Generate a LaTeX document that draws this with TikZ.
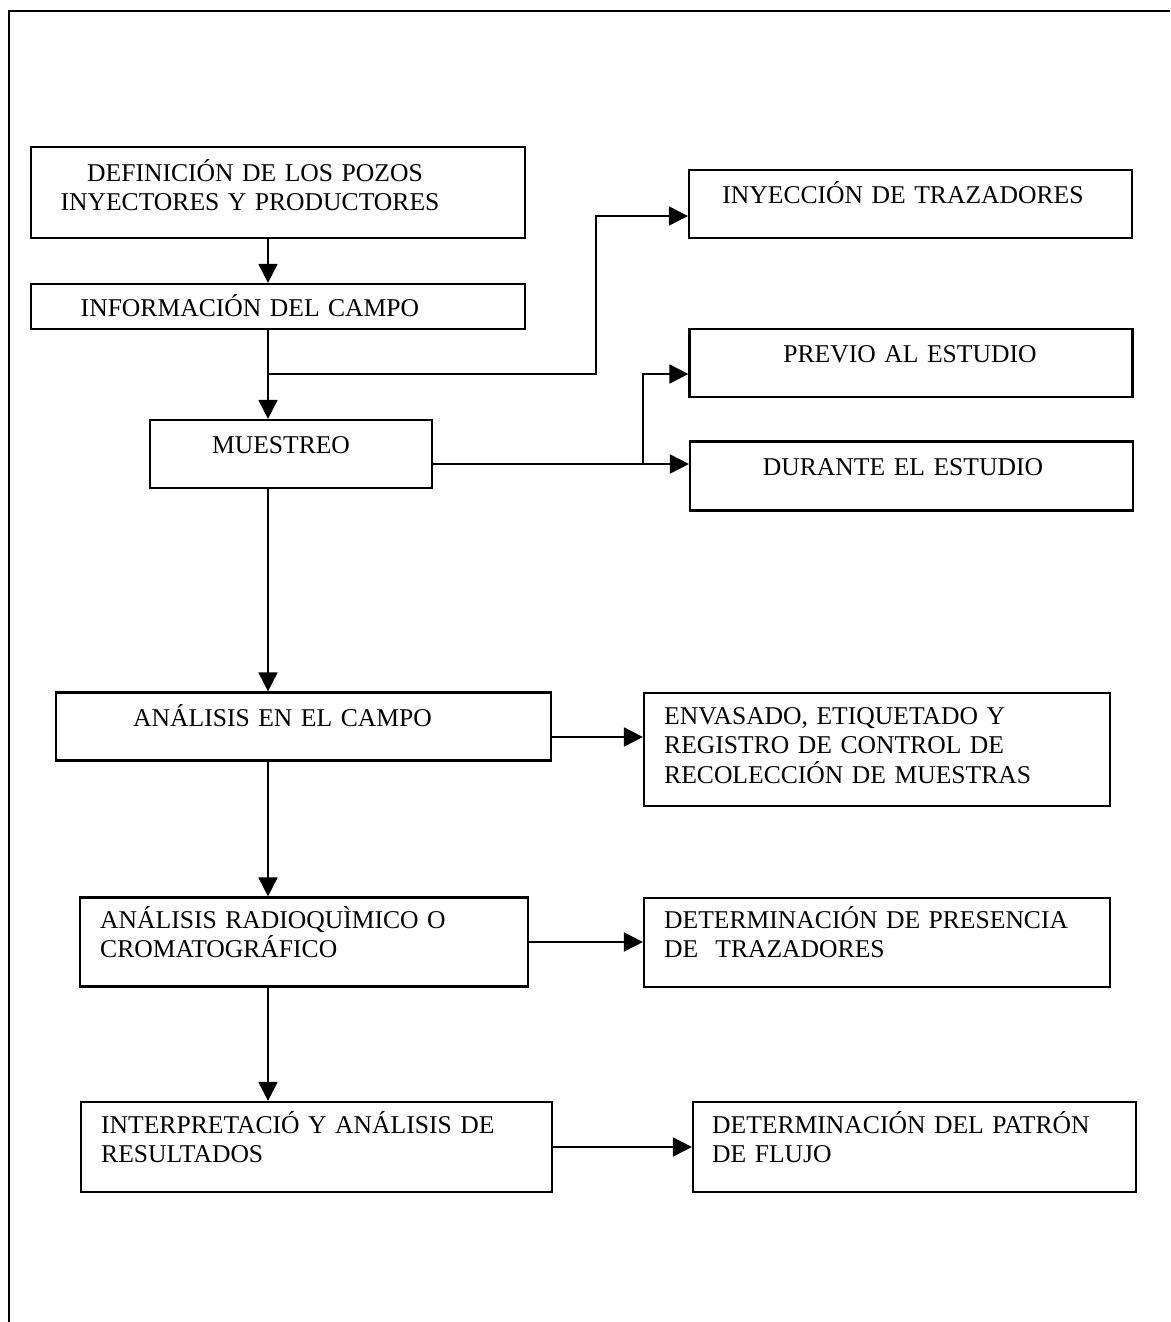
\documentclass[tikz,border=0pt]{standalone}
\usepackage{fontspec}
\setmainfont{Liberation Serif}
\usetikzlibrary{arrows.meta}
\usetikzlibrary{calc}

\begin{document}
\begin{tikzpicture}[x=1pt, y=-1pt,
    blk/.style={rectangle, draw, line width=2.2pt, inner sep=0pt},
    txt/.style={inner sep=0pt, text width=430pt, font=\fontsize{25.6}{29.5}\selectfont},
    arr/.style={line width=1.8pt, -{Triangle[length=19pt, width=19pt]}}]
      \useasboundingbox (0,0) rectangle (1170,1322);
      \draw[line width=2.2pt] (9,1322) -- (9,11) -- (1170,11);

      % cajas
      \node[blk, minimum width=494pt, minimum height=91pt] (def) at (278,192.5) {};
      \node[blk, minimum width=494pt, minimum height=45pt] (info) at (278,306.5) {};
      \node[blk, minimum width=282pt, minimum height=68pt] (mue) at (291,454) {};
      \node[blk, minimum width=443pt, minimum height=68pt] (iny) at (910.5,204) {};
      \node[blk, minimum width=443pt, minimum height=68pt] (pre) at (911,363) {};
      \node[blk, minimum width=443pt, minimum height=69pt] (dur) at (911.5,476) {};
      \node[blk, minimum width=495pt, minimum height=68pt] (ana) at (303.5,726.5) {};
      \node[blk, minimum width=466pt, minimum height=113pt] (env) at (877,749.5) {};
      \node[blk, minimum width=448pt, minimum height=89pt] (rad) at (304,942) {};
      \node[blk, minimum width=466pt, minimum height=89pt] (det) at (877,942.5) {};
      \node[blk, minimum width=471pt, minimum height=90pt] (int) at (316.5,1147) {};
      \node[blk, minimum width=443pt, minimum height=90pt] (pat) at (914.5,1147) {};

      % textos
      \node[txt, align=center, anchor=base] (def-t) at (250,181) {\hspace*{10pt}DEFINICIÓN DE LOS POZOS\\INYECTORES Y PRODUCTORES};
      \node[txt, align=center, anchor=base] (info-t) at (250,316) {INFORMACIÓN DEL CAMPO};
      \node[txt, align=center, anchor=base] (mue-t) at (281,453) {MUESTREO};
      \node[txt, align=center, anchor=base] (iny-t) at (903,203) {INYECCIÓN DE TRAZADORES};
      \node[txt, align=center, anchor=base] (pre-t) at (910,362) {PREVIO AL ESTUDIO};
      \node[txt, align=center, anchor=base] (dur-t) at (903,475) {DURANTE EL ESTUDIO};
      \node[txt, align=left, anchor=base west] (ana-t) at (133,726) {ANÁLISIS EN EL CAMPO};
      \node[txt, align=left, anchor=base west] (env-t) at (664,724) {ENVASADO, ETIQUETADO Y\\REGISTRO DE CONTROL DE\\RECOLECCIÓN DE MUESTRAS};
      \node[txt, align=left, anchor=base west] (rad-t) at (100,928) {ANÁLISIS RADIOQUÌMICO O\\CROMATOGRÁFICO};
      \node[txt, align=left, anchor=base west] (det-t) at (664,928) {DETERMINACIÓN DE PRESENCIA\\DE~~TRAZADORES};
      \node[txt, align=left, anchor=base west] (int-t) at (101,1133) {INTERPRETACIÓ Y ANÁLISIS DE\\RESULTADOS};
      \node[txt, align=left, anchor=base west] (pat-t) at (712,1133) {DETERMINACIÓN DEL PATRÓN\\DE FLUJO};

      % conectores
      \coordinate (stem) at (268,0);
      \coordinate (j1) at (268,374);
      \coordinate (k1) at (596,216);
      \coordinate (j2) at (643,464);
      \coordinate (k2) at (643,374);

      \draw[arr] (def.south -| stem) -- (info.north -| stem);
      \draw[arr] (info.south -| stem) -- (mue.north -| stem);
      \draw[arr] (j1) -| (k1) -- (k1 -| iny.west);
      \draw[arr] (mue.east |- j2) -- (j2 -| dur.west);
      \draw[arr] (j2) -- (k2) -- (k2 -| pre.west);
      \draw[arr] (mue.south -| stem) -- (ana.north -| stem);
      \draw[arr] ([yshift=-10.5pt]ana.east) -- ([yshift=-10.5pt]ana.east -| env.west);
      \draw[arr] (ana.south -| stem) -- (rad.north -| stem);
      \draw[arr] (rad.east) -- (rad.east -| det.west);
      \draw[arr] (rad.south -| stem) -- (int.north -| stem);
      \draw[arr] (int.east) -- (int.east -| pat.west);
\end{tikzpicture}
\end{document}
